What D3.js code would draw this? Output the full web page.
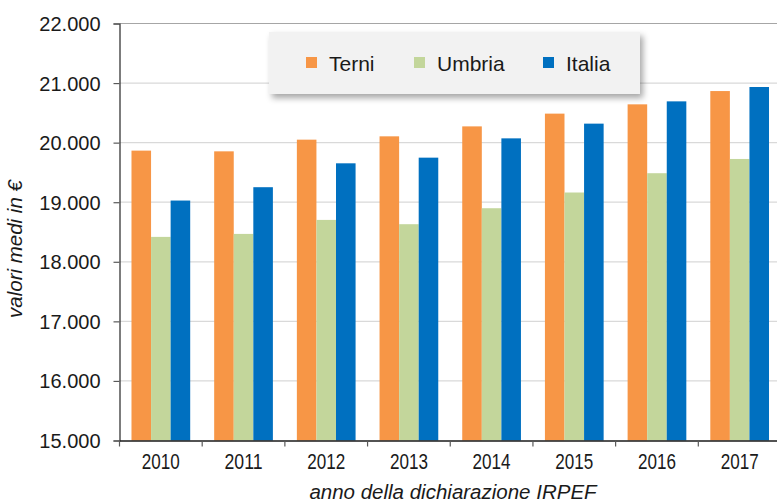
<!DOCTYPE html>
<html>
<head>
<meta charset="utf-8">
<script src="https://cdn.jsdelivr.net/npm/d3@7"></script>
<style>
    body { margin: 0; background: #fff; }
    svg { display: block; font-family: "Liberation Sans", Arial, sans-serif; }
</style>
</head>
<body>
<div id="chart"></div>
<script>
    var years = ["2010", "2011", "2012", "2013", "2014", "2015", "2016", "2017"];
    var seriesNames = ["Terni", "Umbria", "Italia"];
    var terni = [19866, 19854, 20050, 20106, 20273, 20487, 20643, 20866];
    var umbria = [18418, 18468, 18703, 18631, 18899, 19163, 19487, 19726];
    var italia = [19028, 19252, 19653, 19748, 20072, 20319, 20693, 20934];
    var yTicks = [15000, 16000, 17000, 18000, 19000, 20000, 21000, 22000];
    var colors = ["#f79646", "#c3d69b", "#0070c0"];

(function () {
    "use strict";

    var width = 777,
        height = 504,
        plotLeft = 119.5,
        plotRight = 781,
        plotTop = 23.5,
        plotBottom = 440.5,
        font = "'Liberation Sans', Arial, sans-serif";

    var values = [terni, umbria, italia];
    var rows = years.map(function (yr, i) {
        return { year: yr, vals: seriesNames.map(function (s, k) { return { name: s, k: k, v: values[k][i] }; }) };
    });

    var svg = d3.select("#chart").append("svg")
        .attr("width", width)
        .attr("height", height)
        .attr("font-family", font);

    var defs = svg.append("defs");
    var f = defs.append("filter").attr("id", "shadow")
        .attr("x", "-10%").attr("y", "-20%").attr("width", "130%").attr("height", "160%");
    f.append("feDropShadow")
        .attr("dx", 3).attr("dy", 4).attr("stdDeviation", 3)
        .attr("flood-color", "#000").attr("flood-opacity", 0.35);

    var x = d3.scaleBand().domain(years).range([plotLeft, plotRight]);
    var x1 = d3.scaleBand().domain(seriesNames)
        .range([x.bandwidth() * 0.145, x.bandwidth() * 0.855]);
    var y = d3.scaleLinear().domain([15000, 22000]).range([plotBottom, plotTop]);

    // gridlines
    svg.append("g").selectAll("line")
        .data(yTicks.slice(1, -1))
        .join("line")
        .attr("x1", plotLeft).attr("x2", plotRight)
        .attr("y1", function (d) { return y(d); })
        .attr("y2", function (d) { return y(d); })
        .attr("stroke", "#d9d9d9")
        .attr("stroke-width", 1.2);

    // top border
    svg.append("line")
        .attr("x1", plotLeft).attr("x2", plotRight)
        .attr("y1", y(22000)).attr("y2", y(22000))
        .attr("stroke", "#a6a6a6").attr("stroke-width", 1.2);

    // bars
    svg.append("g").selectAll("g")
        .data(rows)
        .join("g")
        .attr("transform", function (d) { return "translate(" + x(d.year) + ",0)"; })
        .selectAll("rect")
        .data(function (d) { return d.vals; })
        .join("rect")
        .attr("x", function (d) { return x1(d.name); })
        .attr("width", x1.bandwidth())
        .attr("y", function (d) { return y(d.v); })
        .attr("height", function (d) { return plotBottom - y(d.v); })
        .attr("fill", function (d) { return colors[d.k]; });

    // y axis
    var yAxis = svg.append("g")
        .attr("transform", "translate(" + plotLeft + ",0)")
        .call(d3.axisLeft(y).tickValues(yTicks).tickSize(6).tickPadding(13)
            .tickFormat(function (d) { return d3.format(",")(d).replace(",", "."); }));
    yAxis.attr("font-family", font);
    yAxis.select(".domain").attr("stroke", "#262626").attr("stroke-width", 1.2);
    yAxis.selectAll(".tick line").attr("stroke", "#595959").attr("stroke-width", 1.2);
    yAxis.selectAll("text")
        .attr("font-size", "20px")
        .attr("fill", "#1a1a1a")
        .attr("dy", "0.35em");

    // x axis
    var xAxis = svg.append("g")
        .attr("transform", "translate(0," + plotBottom + ")")
        .call(d3.axisBottom(x).tickSize(0).tickPadding(13));
    xAxis.attr("font-family", font);
    xAxis.select(".domain").attr("stroke", "#1a1a1a").attr("stroke-width", 1.4);
    xAxis.selectAll("text")
        .attr("font-size", "22px")
        .attr("fill", "#1a1a1a")
        .attr("textLength", 38)
        .attr("lengthAdjust", "spacingAndGlyphs");
    xAxis.selectAll(".sep")
        .data(years)
        .join("line")
        .attr("class", "sep")
        .attr("x1", function (d) { return x(d); })
        .attr("x2", function (d) { return x(d); })
        .attr("y1", 0).attr("y2", 6)
        .attr("stroke", "#595959").attr("stroke-width", 1.2);

    // axis titles
    svg.append("text")
        .attr("transform", "translate(22,249) rotate(-90)")
        .attr("text-anchor", "middle")
        .attr("font-size", "20.5px")
        .attr("font-style", "italic")
        .attr("fill", "#1a1a1a")
        .text("valori medi in €");

    svg.append("text")
        .attr("x", 453)
        .attr("y", 499)
        .attr("text-anchor", "middle")
        .attr("font-size", "20.5px")
        .attr("font-style", "italic")
        .attr("fill", "#1a1a1a")
        .text("anno della dichiarazione IRPEF");

    // legend
    var legend = svg.append("g").attr("transform", "translate(269,32)");
    legend.append("rect")
        .attr("width", 371).attr("height", 62)
        .attr("fill", "#f2f2f2")
        .attr("filter", "url(#shadow)");
    var legendX = [37, 145, 274];
    var item = legend.selectAll("g.item")
        .data(seriesNames)
        .join("g")
        .attr("class", "item")
        .attr("transform", function (d, i) { return "translate(" + legendX[i] + ",0)"; });
    item.append("rect")
        .attr("x", 0).attr("y", 25)
        .attr("width", 11).attr("height", 11)
        .attr("fill", function (d, i) { return colors[i]; });
    item.append("text")
        .attr("x", 23).attr("y", 38.5)
        .attr("font-size", "21px")
        .attr("fill", "#1a1a1a")
        .text(function (d) { return d; });
}());
</script>
</body>
</html>
